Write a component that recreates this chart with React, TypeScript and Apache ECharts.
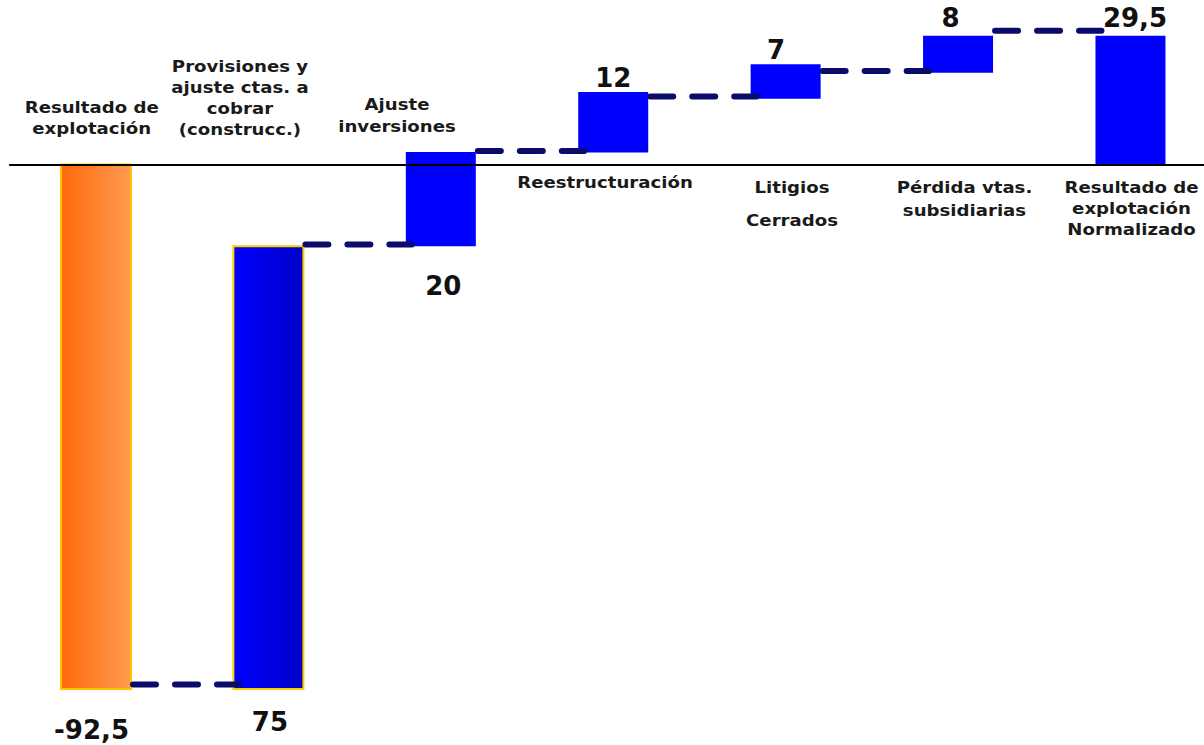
import React, { useEffect, useRef } from 'react';
import * as echarts from 'echarts';

// Categories (one line per array entry as printed in the figure)
const categoryLines: string[][] = [
  ['Resultado de', 'explotación'],
  ['Provisiones y', 'ajuste ctas. a', 'cobrar', '(construcc.)'],
  ['Ajuste', 'inversiones'],
  ['Reestructuración'],
  ['Litigios', 'Cerrados'],
  ['Pérdida vtas.', 'subsidiarias'],
  ['Resultado de', 'explotación', 'Normalizado'],
];

// Printed values
const values = [-92.5, 75, 20, 12, 7, 8, 29.5];

// Bar extents as drawn in the picture (chart units, zero = axis line)
const barLow = [-92.5, -92.5, -14.4, 2.1, 11.6, 16.2, 0];
const barHigh = [0, -14.4, 2.2, 12.8, 17.7, 22.7, 22.7];

// Dashed connector levels between consecutive bars
const connectorLevels = [-91.7, -14.1, 2.4, 12.0, 16.5, 23.6];

// Layout (not data)
const labelSide = ['below', 'below', 'below', 'above', 'above', 'above', 'above'];
const labelDy = [41, 33, 40, -14, -14, -18, -18];
const labelDx = [-4.5, 1.5, 2.5, 0, -9.5, -7.5, 4.5];
const nameX = [91.7, 240, 397, 605, 792, 964.5, 1131.5];
const nameY = [108, 67, 105, 183, 188, 188, 188];
const nameGap = [21, 21, 22, 0, 33, 23, 21];

const fmt = (v: number) => String(v).replace('.', ',');

export default function App() {
  const ref = useRef<HTMLDivElement>(null);
  useEffect(() => {
    if (!ref.current) return;
    const chart = echarts.init(ref.current, null, { renderer: 'svg' });
    const k = 524.5 / 92.5;
    const yMin = -100;
    const yMax = 28;
    const zeroY = 164.5;
    const gridTop = zeroY - yMax * k;
    const gridHeight = (yMax - yMin) * k;
    const band = 172.41;
    const gridLeft = 96 - band / 2;

    const barFills: any[] = [
      new echarts.graphic.LinearGradient(0, 0, 1, 0, [
        { offset: 0, color: '#FF6A0E' },
        { offset: 1, color: '#FF9C50' },
      ]),
      new echarts.graphic.LinearGradient(0, 0, 1, 0, [
        { offset: 0, color: '#0000FF' },
        { offset: 1, color: '#0000C8' },
      ]),
      '#0000FF', '#0000FF', '#0000FF', '#0000FF', '#0000FF',
    ];
    const barStrokes: any[] = ['#FFC400', '#FFCC00', null, null, null, null, null];

    const barData = values.map((_, i) => [i, barLow[i], barHigh[i]]);
    const connData = connectorLevels.map((v, i) => [i, v]);

    const graphic = categoryLines.flatMap((lines, i) =>
      lines.map((t, j) => ({
        type: 'text',
        x: nameX[i],
        y: nameY[i] + j * nameGap[i],
        scaleX: 1.21,
        z: 20,
        style: {
          text: t,
          font: 'bold 15px "DejaVu Sans"',
          fill: '#1a1a1a',
          textAlign: 'center',
          textVerticalAlign: 'middle',
          align: 'center',
          verticalAlign: 'middle',
        },
      }))
    );

    chart.setOption({
      animation: false,
      backgroundColor: '#ffffff',
      grid: { left: gridLeft, top: gridTop, width: band * 7, height: gridHeight },
      xAxis: {
        type: 'category',
        data: categoryLines.map((l) => l.join(' ')),
        z: 3,
        axisLine: { show: true, onZero: true, lineStyle: { color: '#000000', width: 2 } },
        axisTick: { show: false },
        axisLabel: { show: false },
        splitLine: { show: false },
      },
      yAxis: {
        type: 'value',
        min: yMin,
        max: yMax,
        show: false,
        splitLine: { show: false },
      },
      graphic,
      series: [
        {
          type: 'custom',
          name: 'bars',
          z: 2,
          clip: false,
          encode: { x: 0, y: [1, 2] },
          data: barData,
          renderItem: (params: any, api: any) => {
            const i = api.value(0);
            const lo = api.coord([i, api.value(1)]);
            const hi = api.coord([i, api.value(2)]);
            const w = 70;
            const top = Math.min(lo[1], hi[1]);
            const bottom = Math.max(lo[1], hi[1]);
            const ty = labelSide[i] === 'below' ? bottom + labelDy[i] : top + labelDy[i];
            return {
              type: 'group',
              children: [
                {
                  type: 'rect',
                  shape: { x: lo[0] - w / 2, y: top, width: w, height: bottom - top },
                  style: {
                    fill: barFills[i],
                    stroke: barStrokes[i],
                    lineWidth: barStrokes[i] ? 2 : 0,
                  },
                },
                {
                  type: 'text',
                  x: lo[0] + labelDx[i],
                  y: ty,
                  style: {
                    text: fmt(values[i]),
                    font: 'bold 26px "DejaVu Sans"',
                    fill: '#111111',
                    textAlign: 'center',
                    textVerticalAlign: 'middle',
                    align: 'center',
                    verticalAlign: 'middle',
                  },
                },
              ],
            };
          },
        },
        {
          type: 'custom',
          name: 'connectors',
          z: 5,
          clip: false,
          encode: { x: 0, y: 1 },
          data: connData,
          renderItem: (params: any, api: any) => {
            const i = api.value(0);
            const v = api.value(1);
            const a = api.coord([i, v]);
            const b = api.coord([i + 1, v]);
            return {
              type: 'line',
              shape: { x1: a[0] + 37, y1: a[1], x2: b[0] - 29, y2: b[1] },
              style: { stroke: '#0B0B6B', lineWidth: 6, lineDash: [23, 19], lineCap: 'round' },
            };
          },
        },
      ],
    });
    return () => chart.dispose();
  }, []);
  return (
    <div
      style={{ position: 'absolute', left: 0, top: 0, width: 1204, height: 745, overflow: 'hidden', background: '#fff' }}
    >
      <div ref={ref} style={{ width: 1224, height: 745 }} />
    </div>
  );
}
